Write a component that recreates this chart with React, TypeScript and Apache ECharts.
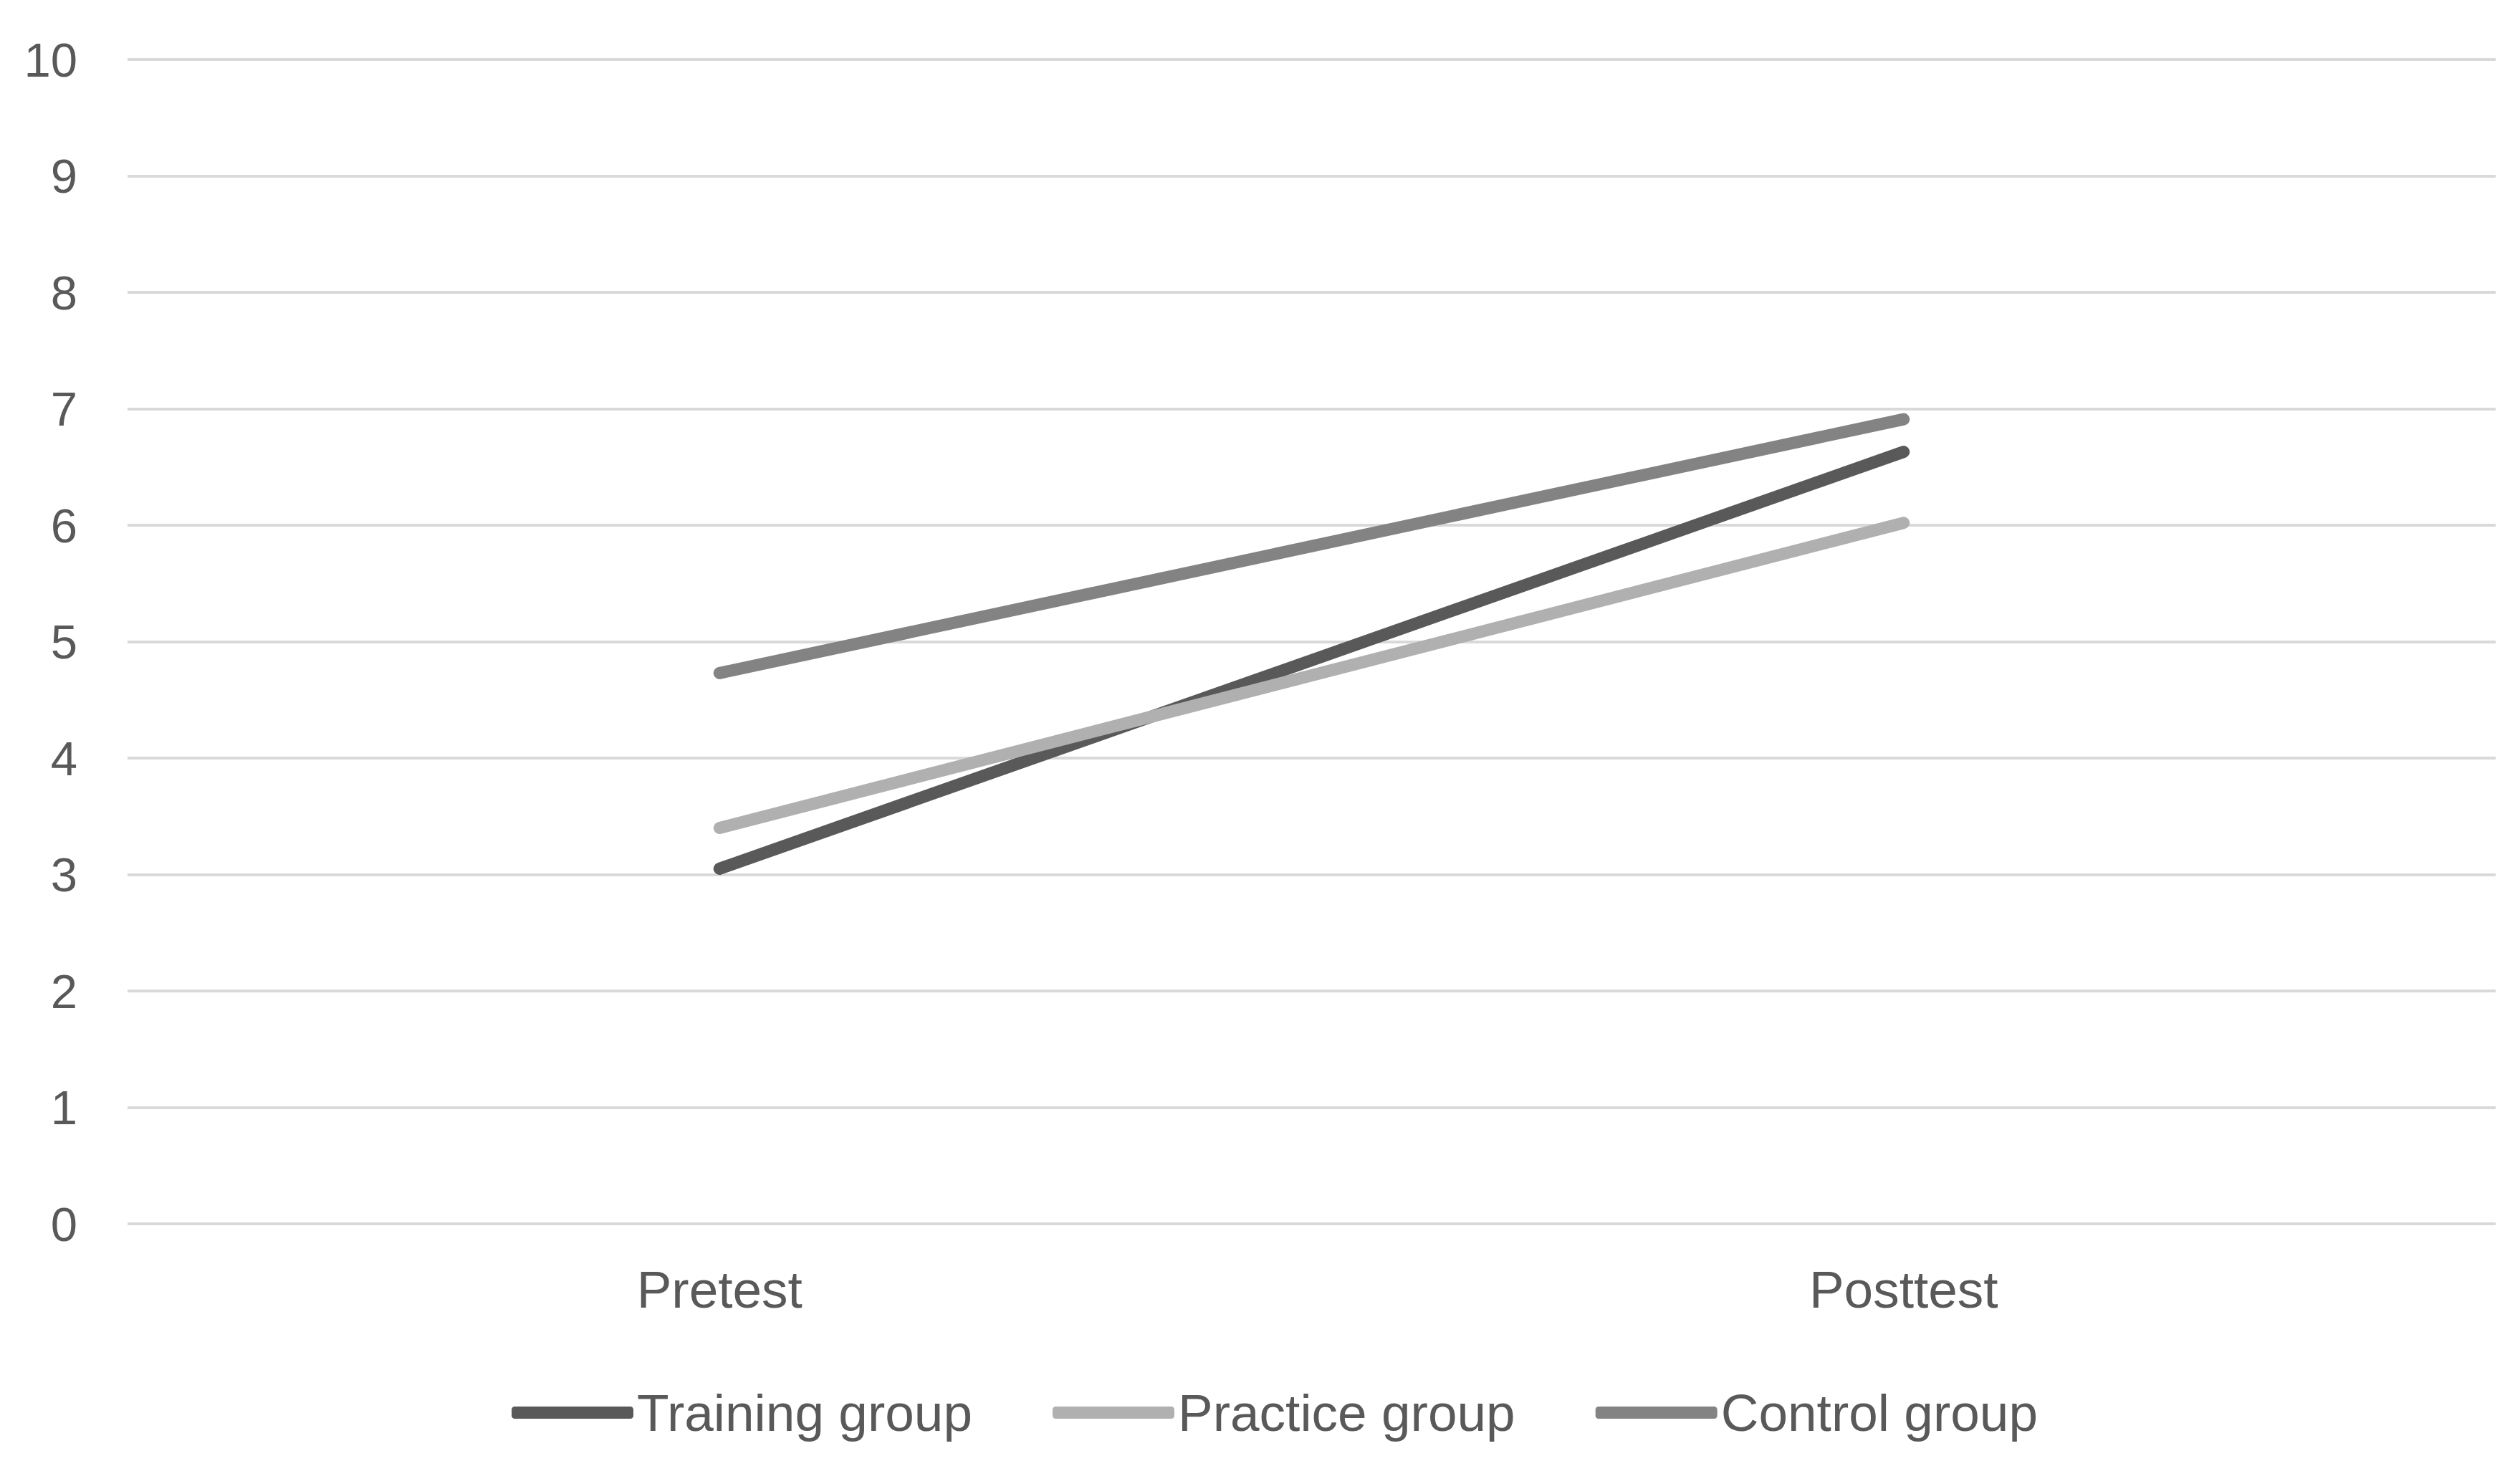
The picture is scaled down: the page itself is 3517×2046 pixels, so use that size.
import React, { useEffect, useRef } from "react";
import * as echarts from "echarts";

const categories = ["Pretest", "Posttest"];
const seriesNames = ["Training group", "Practice group", "Control group"];
const trainingValues = [3.05, 6.63];
const practiceValues = [3.4, 6.02];
const controlValues = [4.73, 6.91];
const seriesColors = ["#595959", "#b0b0b0", "#838383"];
const yTicks = { min: 0, max: 10, interval: 1 };

export default function App() {
  const ref = useRef<HTMLDivElement>(null);
  useEffect(() => {
    document.body.style.margin = "0";
    const chart = echarts.init(ref.current!, null, { renderer: "svg" });
    const values = [trainingValues, practiceValues, controlValues];
    chart.setOption({
      animation: false,
      backgroundColor: "#ffffff",
      grid: { left: 178, right: 34, top: 83, bottom: 338 },
      legend: {
        left: 709,
        top: 1930,
        icon: "roundRect",
        itemWidth: 170,
        itemHeight: 17,
        itemGap: 112,
        textStyle: { fontFamily: "Liberation Sans", fontSize: 73, color: "#595959" },
        data: seriesNames,
      },
      xAxis: {
        type: "category",
        data: categories,
        boundaryGap: true,
        axisLine: { show: false },
        axisTick: { show: false },
        axisLabel: { fontFamily: "Liberation Sans", fontSize: 73, color: "#595959", margin: 55 },
      },
      yAxis: {
        type: "value",
        min: yTicks.min,
        max: yTicks.max,
        interval: yTicks.interval,
        axisLine: { show: false },
        axisTick: { show: false },
        axisLabel: {
          fontFamily: "Liberation Sans",
          fontSize: 67,
          color: "#595959",
          margin: 70,
          padding: [0, 0, 14, 0],
        },
        splitLine: { lineStyle: { color: "#d9d9d9", width: 4 } },
      },
      series: seriesNames.map((name, i) => ({
        name,
        type: "line",
        data: values[i],
        symbol: "none",
        color: seriesColors[i],
        itemStyle: { color: seriesColors[i] },
        lineStyle: { width: 17, color: seriesColors[i], cap: "round" },
      })),
    });
    return () => chart.dispose();
  }, []);
  return <div ref={ref} style={{ width: 3517, height: 2046 }} />;
}
